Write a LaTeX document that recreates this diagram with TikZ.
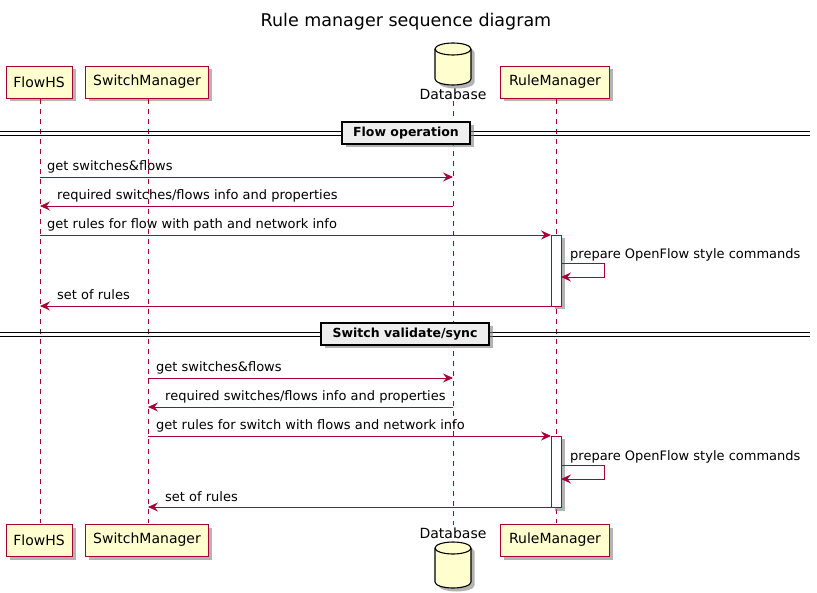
\documentclass[tikz,border=0pt]{standalone}
\usepackage{fontspec}
\setmainfont{DejaVu Sans}
\usetikzlibrary{arrows.meta,shadows}
\definecolor{pu}{HTML}{A80036}
\definecolor{puf}{HTML}{FEFECE}
\definecolor{divf}{HTML}{EEEEEE}
\tikzset{
  shad/.style={drop shadow={shadow xshift=3.5pt,shadow yshift=-3.5pt,fill=black!50,opacity=0.6}},
  part/.style={draw=pu,fill=puf,line width=0.9pt,inner sep=0pt,minimum height=32pt,font=\fontsize{14}{16}\selectfont,shad},
  dbcyl/.style={draw=black,fill=puf,line width=1.1pt,shad},
  dbcap/.style={draw=black,line width=1.1pt},
  dblabel/.style={font=\fontsize{14}{16}\selectfont,inner sep=0pt},
  life/.style={draw=pu,dash pattern=on 5pt off 5pt,line width=0.7pt},
  msg/.style={draw=pu,line width=0.8pt,-{Stealth[length=10pt,width=9pt,inset=3.5pt]}},
  mlabel/.style={font=\fontsize{13}{15}\selectfont,inner sep=0pt,anchor=base west},
  act/.style={draw=pu,fill=white,line width=0.9pt,shad},
  divbox/.style={draw=black,fill=divf,line width=1.2pt,font=\bfseries\fontsize{12.5}{14}\selectfont,inner xsep=6pt,minimum height=22pt,shad},
  divline/.style={draw=black,line width=0.9pt}
}
\begin{document}
\begin{tikzpicture}[x=1pt,y=-1pt]
\useasboundingbox (0,0) rectangle (817,593);
\node[font=\fontsize{17.5}{20}\selectfont] (title) at (406,22) {Rule manager sequence diagram};

% participants top
\node[part,minimum width=66pt] (fh) at (39,82) {FlowHS};
\node[part,minimum width=123pt] (sm) at (147,82) {SwitchManager};
\path[dbcyl] (435,49) -- (435,79) arc[start angle=180,end angle=360,x radius=18pt,y radius=6pt] -- (471,49) arc[start angle=0,end angle=180,x radius=18pt,y radius=6pt] -- cycle;
\path[dbcap] (435,49) arc[start angle=180,end angle=360,x radius=18pt,y radius=6pt];
\node[dblabel] (dbl) at (453,94) {Database};
\node[part,minimum width=109pt] (rm) at (555,82) {RuleManager};
% participants bottom
\node[part,minimum width=66pt] (fh2) at (39,540) {FlowHS};
\node[part,minimum width=123pt] (sm2) at (147,540) {SwitchManager};
\node[dblabel] (dbl2) at (453,533) {Database};
\path[dbcyl] (435,548) -- (435,582) arc[start angle=180,end angle=360,x radius=18pt,y radius=6pt] -- (471,548) arc[start angle=0,end angle=180,x radius=18pt,y radius=6pt] -- cycle;
\path[dbcap] (435,548) arc[start angle=180,end angle=360,x radius=18pt,y radius=6pt];
\node[part,minimum width=109pt] (rm2) at (555,540) {RuleManager};

% lifelines
\coordinate (fht) at (40,99); \coordinate (fhb) at (40,523);
\coordinate (smt) at (148,99); \coordinate (smb) at (148,523);
\coordinate (dbt) at (453,101); \coordinate (dbb) at (453,525);
\coordinate (rmt) at (556,99); \coordinate (rmb) at (556,523);
\path[life] (fht) -- (fhb);
\path[life] (smt) -- (smb);
\path[life] (dbt) -- (dbb);
\path[life] (rmt) -- (rmb);

% divider 1
\coordinate (d1l) at (0,131); \coordinate (d1r) at (810,131);
\coordinate (d1l2) at (0,135); \coordinate (d1r2) at (810,135);
\path[divline] (d1l) -- (d1r); \path[divline] (d1l2) -- (d1r2);
\node[divbox,minimum width=128pt] (div1) at (406,133) {Flow operation};

% activation 1
\node[act,minimum width=10pt,minimum height=71pt,inner sep=0pt] (a1) at (556,270.5) {};
\coordinate (a1l) at (551,235);
\coordinate (a1r1) at (561,263); \coordinate (a1c1) at (604,263);
\coordinate (a1c2) at (604,277); \coordinate (a1r2) at (561,277);
\coordinate (a1lb) at (551,306);

% messages 1
\coordinate (m1a) at (40,177); \coordinate (m1b) at (453,177);
\path[msg] (m1a) -- (m1b);
\node[mlabel] (l1) at (47,171) {get switches\&flows};
\coordinate (m2a) at (453,206); \coordinate (m2b) at (40,206);
\path[msg] (m2a) -- (m2b);
\node[mlabel] (l2) at (57,200) {required switches/flows info and properties};
\coordinate (m3a) at (40,235);
\path[msg] (m3a) -- (a1l);
\node[mlabel] (l3) at (47,229) {get rules for flow with path and network info};
\path[msg] (a1r1) -- (a1c1) -- (a1c2) -- (a1r2);
\node[mlabel] (l4) at (570,258.5) {prepare OpenFlow style commands};
\coordinate (m5b) at (40,306);
\path[msg] (a1lb) -- (m5b);
\node[mlabel] (l5) at (57,300) {set of rules};

% divider 2
\coordinate (d2l) at (0,332); \coordinate (d2r) at (810,332);
\coordinate (d2l2) at (0,336); \coordinate (d2r2) at (810,336);
\path[divline] (d2l) -- (d2r); \path[divline] (d2l2) -- (d2r2);
\node[divbox,minimum width=168pt] (div2) at (405,334) {Switch validate/sync};

% activation 2
\node[act,minimum width=10pt,minimum height=71pt,inner sep=0pt] (a2) at (556,471.5) {};
\coordinate (a2l) at (551,436);
\coordinate (a2r1) at (561,465); \coordinate (a2c1) at (604,465);
\coordinate (a2c2) at (604,479); \coordinate (a2r2) at (561,479);
\coordinate (a2lb) at (551,507);

% messages 2
\coordinate (n1a) at (148,378); \coordinate (n1b) at (453,378);
\path[msg] (n1a) -- (n1b);
\node[mlabel] (k1) at (156,372) {get switches\&flows};
\coordinate (n2a) at (453,407); \coordinate (n2b) at (148,407);
\path[msg] (n2a) -- (n2b);
\node[mlabel] (k2) at (165,401) {required switches/flows info and properties};
\coordinate (n3a) at (148,436);
\path[msg] (n3a) -- (a2l);
\node[mlabel] (k3) at (156,430) {get rules for switch with flows and network info};
\path[msg] (a2r1) -- (a2c1) -- (a2c2) -- (a2r2);
\node[mlabel] (k4) at (570,460.5) {prepare OpenFlow style commands};
\coordinate (n5b) at (148,507);
\path[msg] (a2lb) -- (n5b);
\node[mlabel] (k5) at (165,501) {set of rules};
\end{tikzpicture}
\end{document}
